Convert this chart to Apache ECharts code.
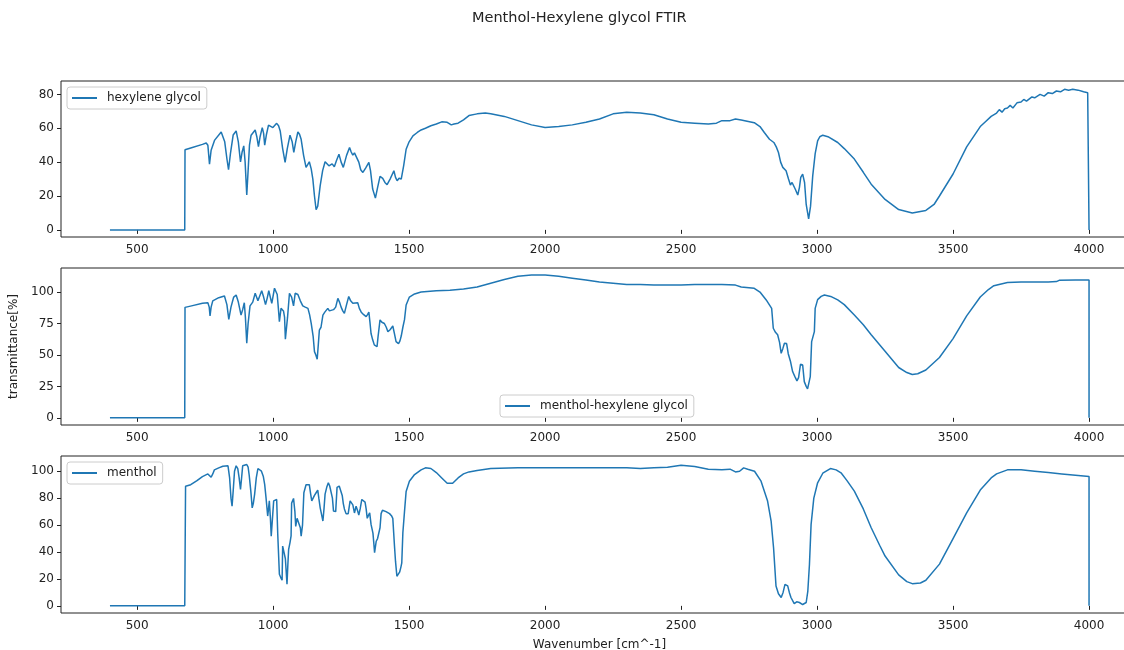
<!DOCTYPE html>
<html>
<head>
<meta charset="utf-8">
<title>Menthol-Hexylene glycol FTIR</title>
<script src="https://cdn.jsdelivr.net/npm/echarts@6/dist/echarts.min.js"></script>
<style>
  html, body { margin: 0; padding: 0; background: #fff; }
  #chart { width: 1124px; height: 650px; }
</style>
</head>
<body>
<div id="chart"></div>
<script>
// ---- spectra: wavenumber [cm^-1] and transmittance [%] ----
const hexWn = [400,675,676,700,740,754,760,766,772,785,809,822,830,836,843,853,864,872,880,886,892,897,903,908,913,919,934,940,946,952,960,965,969,975,983,999,1013,1020,1026,1035,1044,1052,1062,1070,1076,1083,1091,1097,1103,1112,1121,1127,1133,1140,1146,1152,1158,1164,1173,1182,1191,1198,1205,1211,1217,1225,1233,1242,1250,1258,1270,1281,1287,1293,1299,1305,1315,1322,1330,1340,1352,1358,1366,1370,1376,1384,1393,1403,1411,1419,1430,1444,1450,1456,1463,1471,1480,1489,1500,1514,1530,1544,1560,1580,1600,1620,1640,1655,1665,1680,1700,1720,1750,1780,1800,1850,1900,1950,2000,2050,2100,2150,2200,2250,2300,2350,2400,2450,2500,2550,2600,2630,2650,2680,2700,2721,2769,2790,2806,2825,2841,2850,2858,2866,2874,2886,2895,2902,2908,2913,2920,2929,2935,2940,2947,2954,2960,2969,2976,2984,2993,3002,3010,3021,3040,3076,3100,3137,3170,3199,3250,3300,3350,3400,3430,3450,3500,3550,3600,3620,3640,3660,3670,3680,3690,3700,3710,3720,3735,3750,3760,3770,3790,3800,3820,3835,3850,3865,3880,3895,3910,3925,3940,3960,3980,3995,4000,4000];
const hexT  = [0,0,47.3,48.5,50.5,51.3,50,38.8,47,53,57.8,52,42,35.5,45,56,58.4,52,40.2,46,49.6,40,20.6,35,50,55.9,59,55,49.2,55,60.4,57,50,56,61.8,60.4,62.9,61.5,58.4,48,39.8,48,55.9,52,45.7,52,57.8,56.5,53.5,44,36.9,38.5,40.2,36,30,20,11.9,14,26.1,35,40.2,39,37.8,38.5,39,37.3,41,44.7,40,36.9,44,48.6,46,44.1,45.5,45,40,35.5,33.9,36.5,39.8,35,24.1,22,18.8,25,31.6,30.4,28,26.7,30,34.9,31,29,30.5,30,38,47.6,52,55.5,57.5,59,60,61.5,62.5,63.8,63.5,62,62.5,63,65,67.5,68.5,69,68.5,67,64.5,62,60.5,61,62,63.5,65.5,68.5,69.5,69,68,65.5,63.5,63,62.5,63,64.5,64.5,65.5,64.9,63.3,61,57.5,53.5,51.6,49,45.7,40,36.9,34.9,30,26.5,28,28.4,24,20.6,25,31,32.9,28,15,6.5,14,31.9,45,52.5,55,55.9,55,51.6,48,41.8,34,27,18,12,10,11.5,15,20,33,49,61,64,67,69,71,69.5,71.5,72,73.5,72,75,75.5,77,76,78.5,78,80,79,81,80.5,82,81.5,83,82.5,83,82.5,81.5,81,80.5,0];

const mixWn = [400,675,676,700,740,760,765,768,772,778,800,821,830,837,845,855,864,872,882,888,894,898,903,908,915,925,934,944,958,965,972,978,984,995,1005,1012,1015,1020,1023,1026,1029,1038,1042,1045,1050,1053,1060,1068,1075,1081,1091,1100,1109,1118,1128,1134,1140,1147,1152,1157,1162,1166,1170,1176,1183,1190,1201,1207,1213,1222,1230,1238,1244,1250,1256,1262,1270,1278,1285,1293,1300,1311,1317,1324,1333,1342,1347,1352,1356,1360,1366,1372,1382,1386,1393,1400,1409,1416,1422,1430,1440,1446,1452,1461,1466,1471,1477,1483,1489,1501,1520,1544,1600,1650,1700,1750,1800,1850,1900,1950,2000,2050,2100,2150,2200,2250,2300,2350,2400,2450,2500,2550,2600,2650,2700,2721,2769,2790,2813,2833,2839,2847,2855,2862,2868,2874,2880,2888,2894,2902,2910,2918,2926,2932,2939,2947,2953,2960,2965,2975,2980,2990,2993,3002,3015,3027,3050,3076,3100,3137,3170,3199,3250,3300,3330,3350,3370,3400,3450,3500,3550,3600,3630,3650,3700,3750,3800,3850,3880,3890,3950,4000,4000];
const mixT  = [0,0,87.8,89,91,91.5,88,81,88,93,95.5,96.8,90,78.3,88,96,97.6,92,81.7,86,91.5,80,59.3,75,89,92,99,93,101,96,90,95,101,91,103,102,98,85,76.5,76,87,85,80,62.5,62,80,99,96,89,99,98,93,89,88,87,82,75,65,52.6,50,46.6,58,69.8,72,81.7,84,87,85,84,86,88,95,92,88,85,83,90,96.5,93,91,90,91.5,87,84,82,80.4,82,84,76,67,62,58,56.5,65,77.8,76,75,72,68.5,70,73,67,60.6,59,61,65,72,78,89.7,96,98.5,100,101,101.5,102.5,104,107,110,112.5,113.5,113.5,112.5,111,109.5,108,107,106,106,105.5,105.5,105.5,106,106,106,105.5,104,103,100,93.7,87,71.2,68,66,60,51.3,55,59.3,59,51,45,36.8,33,29.4,32,42.6,42,28.8,25,23,32.8,60.6,68.5,87,94,96.5,97.6,96.5,93.7,90,81.7,74,66,53,40,36,34.5,35,38,48,63,81,96,102,105,107.5,108,108,108,108.3,109.3,109.5,109.5,0];

const menWn = [400,675,678,697,720,740,760,766,772,778,784,800,815,834,840,845,849,853,858,864,870,875,880,884,888,895,903,908,912,918,923,927,932,938,944,950,957,964,969,974,980,983,986,990,993,999,1002,1008,1013,1017,1023,1028,1033,1035,1040,1045,1051,1054,1057,1062,1066,1068,1075,1080,1083,1088,1095,1100,1103,1108,1113,1121,1133,1138,1142,1147,1152,1158,1164,1168,1173,1178,1183,1187,1191,1197,1203,1208,1213,1218,1222,1230,1235,1243,1250,1254,1258,1262,1268,1276,1283,1288,1293,1299,1305,1310,1315,1320,1326,1332,1338,1342,1346,1350,1355,1360,1367,1370,1373,1379,1384,1389,1393,1397,1402,1406,1415,1428,1435,1440,1443,1446,1450,1455,1460,1465,1470,1473,1477,1483,1489,1501,1520,1544,1560,1580,1600,1620,1640,1660,1680,1700,1720,1750,1800,1900,2000,2100,2200,2300,2350,2400,2450,2500,2550,2600,2650,2680,2700,2715,2730,2745,2770,2794,2818,2831,2840,2849,2858,2868,2875,2882,2887,2892,2898,2904,2916,2925,2935,2947,2960,2966,2972,2978,2988,3002,3021,3049,3070,3088,3110,3137,3170,3199,3230,3250,3300,3330,3350,3380,3400,3450,3500,3550,3600,3640,3660,3700,3750,3800,3850,3900,3950,4000,4000];
const menT  = [0,0,88.9,90,93,96,98,97,95.5,98,101,102.5,103.7,104,95,80,74,85,100,104,102,95,86.4,95,104,105,105,103,97,85,72.8,76,83,95,102,102,100,96,90,80,66.7,72,78,65,51.8,51,78,79,79,53,23.5,21,19,44.4,43,35,16,30,42,47,52,76.3,79.8,70,59,65,64,58,51.8,60,84,90,90,83,78,80,82,84,86,80,72.8,68,63,72,83,88,91.4,89,88,80,70.4,70,88,89,88,82,76,72,68.5,68.5,78,77,75,69,74,71,67.5,72,79,78,77,72,65,67,69,60.5,54,47,39.5,48,50,51,58,68.5,71,72,70,68.5,67,65,55,45,33,22,23,25,29,32,54.3,70,85,92.6,97.5,101,102.5,102,99,95,91,91,95,98,99.5,100.5,102,102.5,102.5,102.5,102.5,102.5,102,102.5,103,104.5,103.5,101.5,101,101.5,99.5,100,102.5,101.5,100,92.6,77.8,63,43.2,14.8,9,6.2,10,16,15,14.8,10,6.2,1.7,3,2.5,1,2.5,11,30.9,60.5,80,91.4,98.5,102,101,98.8,93,85.2,72,58,45,37,23,18,16.5,17,19,31,50,69,86,95,98,101,101,100,99,98,97,96,0];

// ---- tick values ----
const xTicks   = [500, 1000, 1500, 2000, 2500, 3000, 3500, 4000];
const hexTicks = [0, 20, 40, 60, 80];
const mixTicks = [0, 25, 50, 75, 100];
const menTicks = [0, 20, 40, 60, 80, 100];

const names = ['hexylene glycol', 'menthol-hexylene glycol', 'menthol'];
const LINE = '#1f77b4';
const FONT = 'DejaVu Sans';

const pairs = (xs, ys) => xs.map((x, i) => [x, ys[i]]);

// the plot area runs past the right edge of the canvas
const grids = [
  { left: 61, width: 1077, top: 81, height: 156 },
  { left: 61, width: 1077, top: 268, height: 157 },
  { left: 61, width: 1077, top: 456, height: 157 }
].map(g => Object.assign(g, {
  show: true, borderColor: '#222', borderWidth: 1, backgroundColor: '#fff',
  containLabel: false, outerBoundsMode: 'none'
}));

const yRanges = [[-4.2, 87.9], [-5.7, 119.1], [-5.3, 111.3]];
const yTicks = [hexTicks, mixTicks, menTicks];

const tickStyle = { show: true, length: 4, inside: false, lineStyle: { color: '#222', width: 1 } };
const labelStyle = { color: '#222', fontSize: 12, fontFamily: FONT, margin: 7, formatter: v => String(v) };

const xAxes = [0, 1, 2].map(i => ({
  type: 'value', gridIndex: i, min: 220, max: 4180,
  axisLine: { show: false },
  axisTick: Object.assign({ customValues: xTicks }, tickStyle),
  axisLabel: Object.assign({ customValues: xTicks }, labelStyle),
  splitLine: { show: false },
  name: i === 2 ? 'Wavenumber [cm^-1]' : '',
  nameLocation: 'middle', nameGap: 26,
  nameTextStyle: { color: '#222', fontSize: 12, fontFamily: FONT }
}));

const yAxes = [0, 1, 2].map(i => ({
  type: 'value', gridIndex: i, min: yRanges[i][0], max: yRanges[i][1],
  axisLine: { show: false },
  axisTick: Object.assign({ customValues: yTicks[i] }, tickStyle),
  axisLabel: Object.assign({ customValues: yTicks[i] }, labelStyle),
  splitLine: { show: false },
  name: i === 1 ? 'transmittance[%]' : '',
  nameLocation: 'middle', nameGap: 37, nameRotate: 90,
  nameTextStyle: { color: '#222', fontSize: 12, fontFamily: FONT }
}));

const series = [pairs(hexWn, hexT), pairs(mixWn, mixT), pairs(menWn, menT)].map((d, i) => ({
  type: 'line', name: names[i], xAxisIndex: i, yAxisIndex: i, data: d,
  showSymbol: false, symbol: 'none', clip: true,
  lineStyle: { color: LINE, width: 1.5 }, itemStyle: { color: LINE }
}));

const legendBase = {
  orient: 'horizontal', icon: 'rect', itemWidth: 25, itemHeight: 2,
  backgroundColor: 'rgba(255,255,255,0.8)', borderColor: '#ccc', borderWidth: 1, borderRadius: 3,
  padding: [5, 6, 5, 5],
  textStyle: { color: '#222', fontSize: 12, fontFamily: FONT, padding: [0, 0, 0, 5] }
};
const legends = [
  Object.assign({ data: [names[0]], left: 67, top: 87 }, legendBase),
  Object.assign({ data: [names[1]], left: 500, top: 395 }, legendBase),
  Object.assign({ data: [names[2]], left: 67, top: 462 }, legendBase)
];

const chart = echarts.init(document.getElementById('chart'), null, { renderer: 'canvas' });
chart.setOption({
  animation: false,
  backgroundColor: '#fff',
  title: {
    text: 'Menthol-Hexylene glycol FTIR', left: 472, top: 11, padding: 0,
    textStyle: { color: '#222', fontSize: 14.5, fontWeight: 'normal', fontFamily: FONT }
  },
  legend: legends,
  grid: grids,
  xAxis: xAxes,
  yAxis: yAxes,
  series: series
});
</script>
</body>
</html>
